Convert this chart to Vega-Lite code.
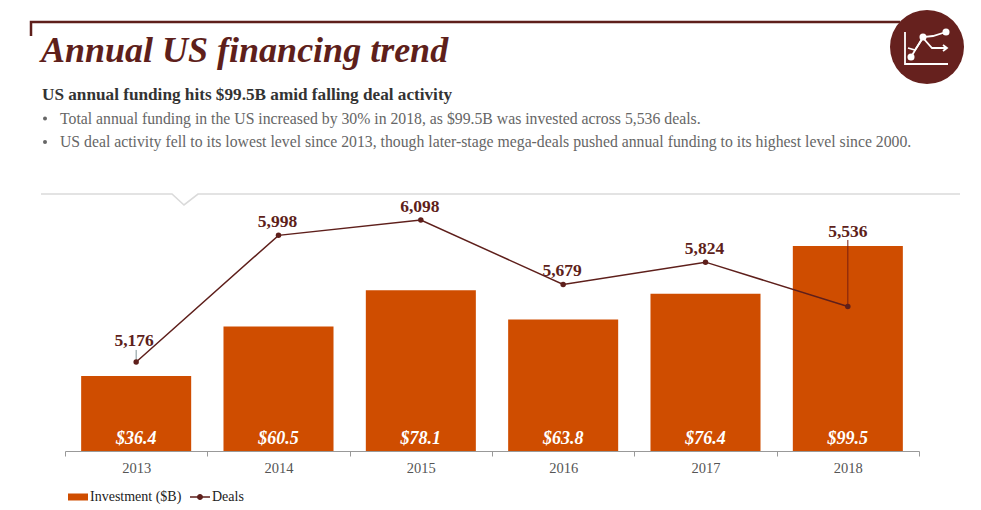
{
"$schema":"https://vega.github.io/schema/vega-lite/v6.json",
"width":981,"height":510,"padding":0,"autosize":{"type":"none"},"background":"white",
"title":{"text":"Annual US financing trend","anchor":"start","frame":"group","dx":41,"offset":-70,"font":"Liberation Serif","fontSize":36,"fontWeight":"bold","fontStyle":"italic","color":"#5E1F1B"},
"config":{"view":{"stroke":null}},
"datasets":{
"deals":[{"year":"2013","investment":36.4,"deals":5176},{"year":"2014","investment":60.5,"deals":5998},{"year":"2015","investment":78.1,"deals":6098},{"year":"2016","investment":63.8,"deals":5679},{"year":"2017","investment":76.4,"deals":5824},{"year":"2018","investment":99.5,"deals":5536}],
"frame":[{"part":"top","a":31,"b":36,"o":1},{"part":"top","a":31,"b":22,"o":2},{"part":"top","a":900,"b":22,"o":3},
{"part":"notch","a":41,"b":194,"o":1},{"part":"notch","a":172,"b":194,"o":2},{"part":"notch","a":184,"b":205,"o":3},{"part":"notch","a":198,"b":194,"o":4},{"part":"notch","a":960,"b":194,"o":5},
{"part":"i1","a":905,"b":32,"o":1},{"part":"i1","a":905,"b":64,"o":2},{"part":"i1","a":948,"b":64,"o":3},
{"part":"i2","a":911,"b":57,"o":1},{"part":"i2","a":923,"b":37,"o":2},{"part":"i2","a":933,"b":36,"o":3},{"part":"i2","a":946,"b":32,"o":4},
{"part":"i3","a":908,"b":48,"o":1},{"part":"i3","a":915,"b":50,"o":2},{"part":"i3","a":923,"b":38,"o":3},{"part":"i3","a":932,"b":48,"o":4},{"part":"i3","a":947,"b":48,"o":5},
{"part":"i4","a":943,"b":45,"o":1},{"part":"i4","a":947,"b":48,"o":2},{"part":"i4","a":943,"b":51,"o":3}],
"badge":[{"a":927,"b":47}],
"dots":[{"a":911,"b":57},{"a":923,"b":37},{"a":946,"b":32}],
"notes":[{"row":1,"text":"US annual funding hits $99.5B amid falling deal activity","kind":"lead"},{"row":2,"text":"Total annual funding in the US increased by 30% in 2018, as $99.5B was invested across 5,536 deals.","kind":"bullet"},{"row":3,"text":"US deal activity fell to its lowest level since 2013, though later-stage mega-deals pushed annual funding to its highest level since 2000.","kind":"bullet"}]
},
"layer":[
{"data":{"name":"frame"},
 "encoding":{"x":{"field":"a","type":"quantitative","axis":null,"scale":{"domain":[0,981],"range":[0,981]}},"y":{"field":"b","type":"quantitative","axis":null,"scale":{"domain":[0,510],"range":[0,510]}},"order":{"field":"o"},"detail":{"field":"part"}},
 "layer":[
  {"transform":[{"filter":"datum.part==='top'"}],"mark":{"type":"line","color":"#5E1F1B","strokeWidth":2.5}},
  {"transform":[{"filter":"datum.part==='notch'"}],"mark":{"type":"line","color":"#DADADA","strokeWidth":1.6}},
  {"data":{"name":"badge"},"mark":{"type":"point","filled":true,"opacity":1,"color":"#66211E","size":5476}},
  {"transform":[{"filter":"test(/^i/,datum.part)"}],"mark":{"type":"line","color":"white","strokeWidth":1.8}},
  {"data":{"name":"dots"},"mark":{"type":"point","filled":true,"opacity":1,"color":"white","size":50}}
 ]},
{"data":{"name":"notes"},
 "encoding":{"y":{"field":"row","type":"ordinal","axis":null,"scale":{"type":"point","domain":[1,2,3],"range":[95,142],"padding":0}}},
 "layer":[
  {"transform":[{"filter":"datum.kind==='lead'"}],"mark":{"type":"text","align":"left","baseline":"middle","font":"Liberation Serif","fontSize":17.2,"fontWeight":"bold","color":"#333333"},"encoding":{"x":{"datum":42,"type":"quantitative","axis":null,"scale":{"domain":[0,981],"range":[0,981]}},"text":{"field":"text"}}},
  {"transform":[{"filter":"datum.kind==='bullet'"}],"mark":{"type":"text","align":"left","baseline":"middle","font":"Liberation Serif","fontSize":15.75,"color":"#666666"},"encoding":{"x":{"datum":60,"type":"quantitative","axis":null,"scale":{"domain":[0,981],"range":[0,981]}},"text":{"field":"text"}}},
  {"transform":[{"filter":"datum.kind==='bullet'"}],"mark":{"type":"point","filled":true,"opacity":1,"color":"#666666","size":16},"encoding":{"x":{"datum":45,"type":"quantitative","axis":null,"scale":{"domain":[0,981],"range":[0,981]}}}}
 ]},
{"data":{"name":"deals"},
 "encoding":{"x":{"field":"year","type":"ordinal","scale":{"type":"band","range":[65,919],"paddingInner":0,"paddingOuter":0},"axis":{"title":null,"labelAngle":0,"labelFont":"Liberation Serif","labelFontSize":14.5,"labelColor":"#555555","labelPadding":5,"domainColor":"#999999","tickColor":"#999999","tickSize":5,"tickBand":"extent","orient":"bottom","offset":-59}}},
 "layer":[
  {"encoding":{"y":{"type":"quantitative","axis":null,"scale":{"domain":[0,124.3],"range":[451,195]}}},
   "layer":[
    {"mark":{"type":"bar","width":{"band":0.773}},"encoding":{"y":{"field":"investment","type":"quantitative","axis":null,"scale":{"domain":[0,124.3],"range":[451,195]}},"color":{"datum":"Investment ($B)","type":"nominal","scale":{"range":["#CF4D00"]},"legend":{"title":null,"orient":"none","legendX":68,"legendY":487,"symbolType":"M-1,-0.35H1V0.35H-1Z","symbolSize":400,"symbolStrokeWidth":0,"labelFont":"Liberation Serif","labelFontSize":14,"labelColor":"#222222","labelOffset":2}}}},
    {"mark":{"type":"text","font":"Liberation Serif","fontSize":18,"fontWeight":"bold","fontStyle":"italic","color":"white","baseline":"middle"},"encoding":{"y":{"datum":5.8,"type":"quantitative","axis":null,"scale":{"domain":[0,124.3],"range":[451,195]}},"text":{"field":"investment","type":"quantitative","format":"$.1f"}}}
   ]},
  {"layer":[
    {"mark":{"type":"line","color":"#5E1F1B","strokeWidth":1.5},"encoding":{"y":{"field":"deals","type":"quantitative","axis":null,"scale":{"domain":[4598,6260],"range":[451,195]}}}},
    {"transform":[{"filter":"datum.year==='2018'"}],"mark":{"type":"rule","color":"#7A1F10","strokeWidth":1},"encoding":{"y":{"field":"deals","type":"quantitative","axis":null,"scale":{"domain":[4598,6260],"range":[451,195]}},"y2":{"datum":5968}}},
    {"transform":[{"filter":"datum.year==='2013'"}],"mark":{"type":"rule","color":"#7F9295","strokeWidth":1},"encoding":{"y":{"field":"deals","type":"quantitative","axis":null,"scale":{"domain":[4598,6260],"range":[451,195]}},"y2":{"datum":5254}}},
    {"mark":{"type":"point","filled":true,"opacity":1,"size":30},"encoding":{"y":{"field":"deals","type":"quantitative","axis":null,"scale":{"domain":[4598,6260],"range":[451,195]}},"color":{"datum":"Deals","type":"nominal","scale":{"range":["#5E1F1B"]},"legend":{"title":null,"orient":"none","legendX":190,"legendY":487,"symbolType":"M-1,-0.07H1V0.07H-1Z M-0.3,0A0.3,0.3 0 1,1 0.3,0A0.3,0.3 0 1,1 -0.3,0Z","symbolSize":400,"symbolStrokeWidth":0,"labelFont":"Liberation Serif","labelFontSize":14,"labelColor":"#222222","labelOffset":2}}}},
    {"transform":[{"filter":"datum.year!=='2013' && datum.year!=='2018'"}],"mark":{"type":"text","font":"Liberation Serif","fontSize":17.5,"fontWeight":"bold","color":"#5E1F1B","baseline":"middle","dy":-13,"dx":-1},"encoding":{"y":{"field":"deals","type":"quantitative","axis":null,"scale":{"domain":[4598,6260],"range":[451,195]}},"text":{"field":"deals","type":"quantitative","format":","}}},
    {"transform":[{"filter":"datum.year==='2013'"}],"mark":{"type":"text","font":"Liberation Serif","fontSize":17.5,"fontWeight":"bold","color":"#5E1F1B","baseline":"middle","dx":-2},"encoding":{"y":{"datum":5312,"type":"quantitative","axis":null,"scale":{"domain":[4598,6260],"range":[451,195]}},"text":{"field":"deals","type":"quantitative","format":","}}},
    {"transform":[{"filter":"datum.year==='2018'"}],"mark":{"type":"text","font":"Liberation Serif","fontSize":17.5,"fontWeight":"bold","color":"#5E1F1B","baseline":"middle"},"encoding":{"y":{"datum":6020,"type":"quantitative","axis":null,"scale":{"domain":[4598,6260],"range":[451,195]}},"text":{"field":"deals","type":"quantitative","format":","}}}
   ]}
 ],
 "resolve":{"scale":{"y":"independent","color":"independent"}}}
],
"resolve":{"scale":{"x":"independent","y":"independent","color":"independent"}}
}
